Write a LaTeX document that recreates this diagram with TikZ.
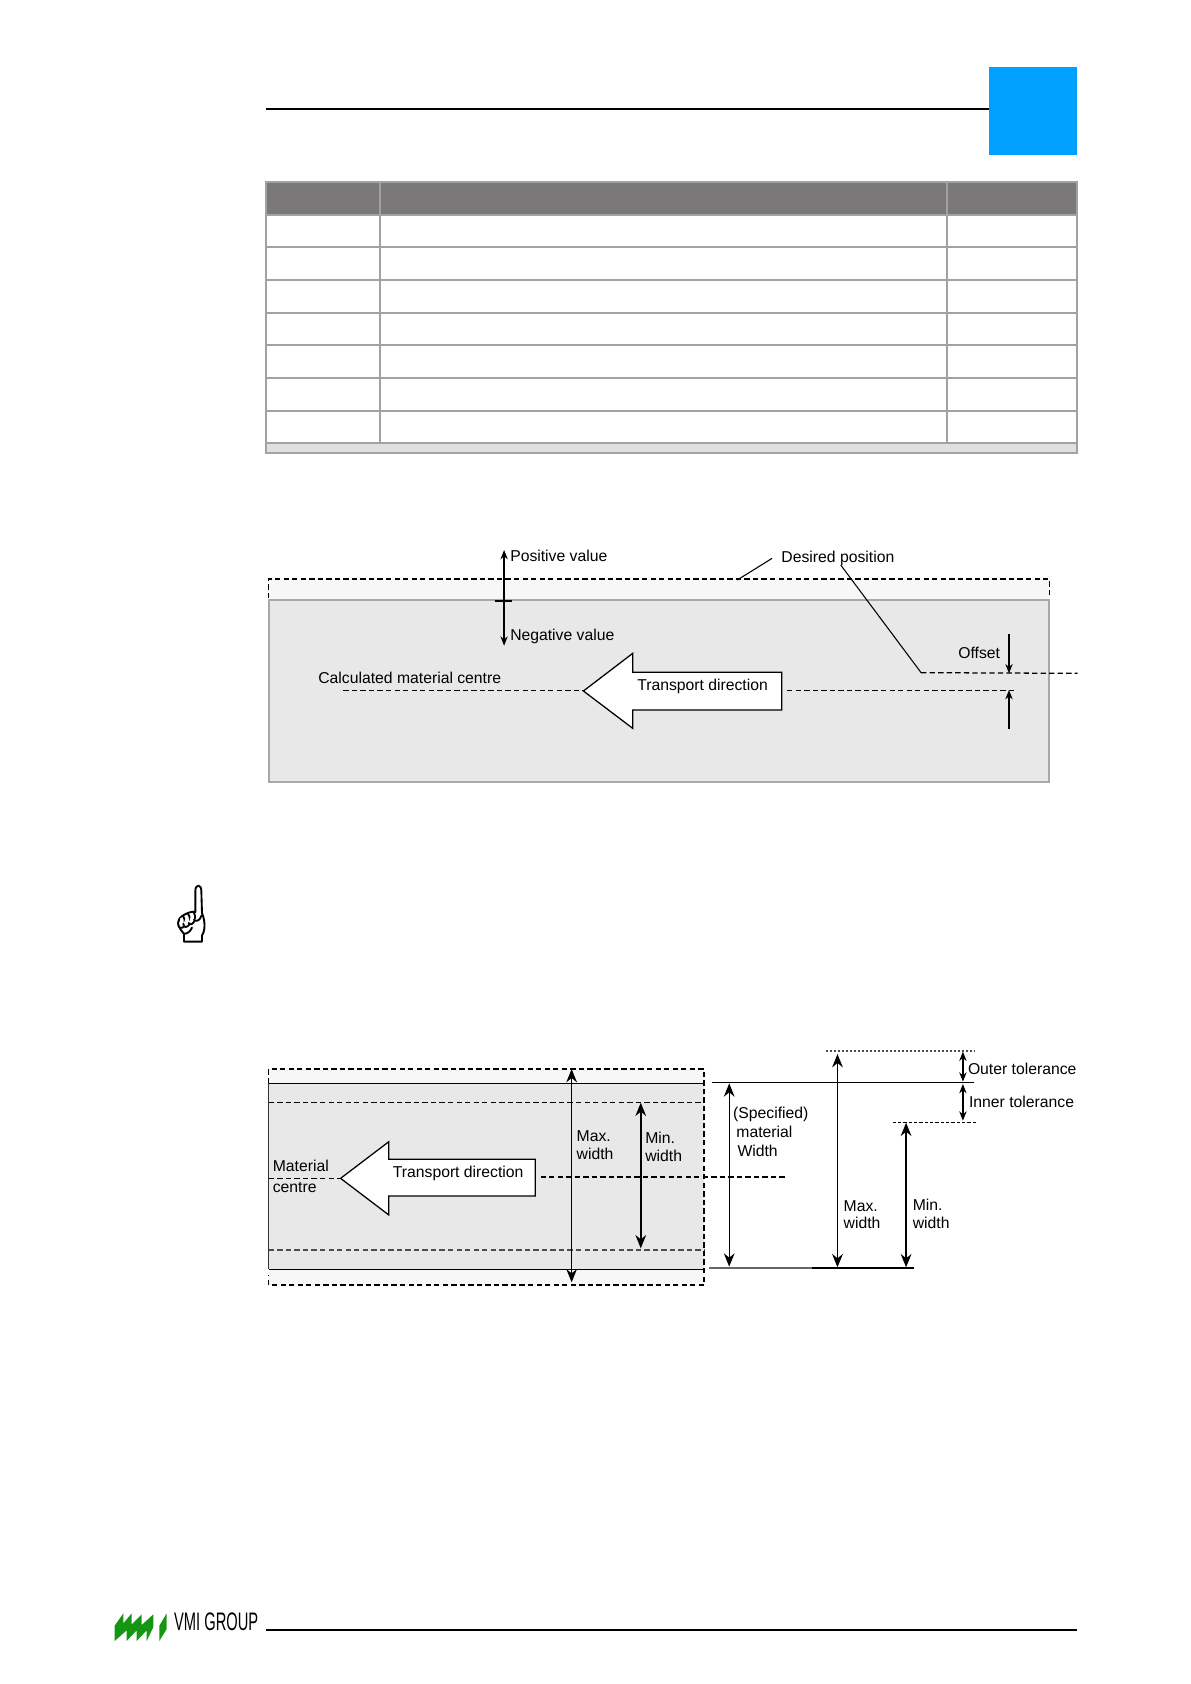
\documentclass[tikz,border=0pt]{standalone}
\usepackage{fontspec}
\setmainfont{Liberation Sans}
\usetikzlibrary{arrows.meta}
\definecolor{tblgrid}{HTML}{A2A2A2}
\definecolor{tblhead}{HTML}{7A7878}
\definecolor{tblfoot}{HTML}{E0E0E0}
\definecolor{bluebox}{HTML}{00A0FF}
\definecolor{matgray}{HTML}{E8E8E8}
\definecolor{matlight}{HTML}{F7F7F7}
\definecolor{matedge}{HTML}{A8A8A8}
\definecolor{vmigreen}{HTML}{149614}
\tikzset{
  lab/.style={anchor=west,inner sep=0pt,font=\fontsize{11.8}{12}\selectfont},
  grid/.style={draw=tblgrid,line width=1.5pt},
  rulebk/.style={draw=black,line width=1.3pt},
  dashln/.style={draw=black,line width=0.95pt,dash pattern=on 4pt off 2.4pt},
  thinln/.style={draw=black,line width=0.8pt},
  dim/.style={draw=black,line width=0.95pt,{Stealth[length=7pt,width=5.5pt]}-{Stealth[length=7pt,width=5.5pt]}},
  dimbig/.style={draw=black,line width=1.3pt,{Stealth[length=10pt,width=8pt]}-{Stealth[length=10pt,width=8pt]}},
  oneway/.style={draw=black,line width=0.95pt,-{Stealth[length=7pt,width=5.5pt]}},
  bigarrow/.style={draw=black,line width=0.95pt,fill=white},
  leaf/.style={fill=vmigreen,draw=none},
  handln/.style={draw=black,line width=1.4pt,line join=round,line cap=round,fill=white}
}
\begin{document}
\begin{tikzpicture}[x=0.75pt,y=-0.75pt]
\useasboundingbox (0,0) rectangle (1191,1684);
% header
\draw[rulebk] (266,109) -- (989,109);
\fill[bluebox] (989,67) rectangle (1077,155);
% table
\fill[tblhead] (266,182) rectangle (1077,214.5);
\fill[tblfoot] (266,443) rectangle (1077,453);
\draw[grid] (266,182) rectangle (1077,453);
\foreach \yy in {214.5,247,280,313,345,378,411,443}{\draw[grid] (266,\yy) -- (1077,\yy);}
\draw[grid] (380,182) -- (380,443);
\draw[grid] (947,182) -- (947,443);
% first figure
\begin{scope}[shift={(249.5,530)},x=0.402pt,y=-0.25pt]
\fill[matlight] (36,147) rectangle (1492,210);
\draw[dashln] (36,205) -- (36,147) -- (1492,147) -- (1492,205);
\draw[draw=matedge,line width=1.2pt,fill=matgray] (36,210) rectangle (1492,756);
\draw[dim] (475,60) -- (475,347);
\draw[thinln] (458,213) -- (490,213);
\draw[thinln] (910,150) -- (975,85);
\draw[thinln] (1103,105) -- (1253,428);
\draw[dashln] (1253,428) -- (1545,430);
\draw[dashln] (175,481) -- (623,481);
\draw[dashln] (1003,481) -- (1430,481);
\draw[oneway] (1417,313) -- (1417,430);
\draw[oneway] (1417,597) -- (1417,480);
\draw[bigarrow] (623,483) -- (715,370) -- (715,427) -- (993,427) -- (993,540) -- (715,540) -- (715,595) -- cycle;
\node[lab] (posv) at (486,78) {Positive value};
\node[lab] (negv) at (486,318) {Negative value};
\node[lab] (desp) at (992,84) {Desired position};
\node[lab] (offs) at (1322,370) {Offset};
\node[lab] (calc) at (128,443) {Calculated material centre};
\node[lab] (tra1) at (723,469) {Transport direction};
\end{scope}
% hand
\begin{scope}[shift={(172,880)},x=0.25pt,y=-0.2925pt]
\draw[handln] (36,158) -- (36,138) .. controls (22,125) and (14,112) .. (22,100) .. controls (28,90) and (60,78) .. (70,82) -- (70,28) .. controls (70,10) and (88,10) .. (88,28) -- (90,85) .. controls (100,105) and (100,130) .. (90,142) -- (90,158) -- cycle;
\draw[handln] (22,100) .. controls (14,112) and (20,128) .. (32,122) .. controls (40,118) and (40,100) .. (34,94);
\draw[handln] (34,112) .. controls (34,124) and (46,122) .. (52,114) .. controls (56,106) and (54,92) .. (48,87);
\draw[handln] (50,110) .. controls (54,118) and (64,112) .. (68,104) .. controls (72,96) and (68,84) .. (62,81);
\draw[handln] (66,102) .. controls (72,108) and (84,104) .. (88,92);
\draw[handln] (36,138) .. controls (48,138) and (56,130) .. (60,122);
\end{scope}
% second figure
\begin{scope}[shift={(249.5,1030)},x=0.402pt,y=-0.25pt]
\fill[matlight] (36,117) rectangle (848,765);
\fill[matgray] (36,160) rectangle (848,718);
\draw[thinln,draw=black!80] (36,160) -- (36,718);
\draw[dashln] (36,160) -- (36,117) -- (848,117) -- (848,765) -- (36,765) -- (36,735);
\draw[draw=black,line width=1.2pt] (36,160) -- (848,160);
\draw[draw=black,line width=1.2pt] (36,718) -- (848,718);
\draw[dashln] (36,218) -- (848,218);
\draw[dashln,draw=black!70] (36,660) -- (848,660);
\draw[dashln,line width=0.7pt] (36,445) -- (170,445);
\draw[dashln] (543,441) -- (1003,441);
\draw[dim,{Stealth[length=10pt,width=8pt]}-{Stealth[length=10pt,width=8pt]}] (601,117) -- (601,757);
\draw[dimbig] (730,218) -- (730,655);
\draw[dim,{Stealth[length=10pt,width=8pt]}-{Stealth[length=10pt,width=8pt]}] (895,160) -- (895,710);
\draw[dimbig] (1097,72) -- (1097,712);
\draw[dimbig] (1225,278) -- (1225,712);
\draw[dim] (1331,65) -- (1331,155);
\draw[dim] (1331,162) -- (1331,272);
\draw[thinln] (862,158) -- (1352,158);
\draw[thinln,draw=black!60] (858,714) -- (1050,714);
\draw[thinln,line width=1.1pt] (1050,714) -- (1240,714);
\draw[thinln,dash pattern=on 2pt off 1pt,draw=black!70] (1075,63) -- (1352,63);
\draw[thinln,dash pattern=on 2.5pt off 1.5pt] (1200,277) -- (1358,277);
\draw[bigarrow] (170,445) -- (260,335) -- (260,388) -- (533,388) -- (533,498) -- (260,498) -- (260,555) -- cycle;
\node[lab] (mat1) at (43,409) {Material};
\node[lab] (mat2) at (43,473) {centre};
\node[lab] (tra2) at (267,431) {Transport direction};
\node[lab] (max1) at (610,318) {Max.};
\node[lab] (max2) at (610,372) {width};
\node[lab] (min1) at (738,322) {Min.};
\node[lab] (min2) at (738,377) {width};
\node[lab] (spc1) at (902,252) {(Specified)};
\node[lab] (spc2) at (908,306) {material};
\node[lab] (spc3) at (910,362) {Width};
\node[lab] (max3) at (1108,529) {Max.};
\node[lab] (max4) at (1108,578) {width};
\node[lab] (min3) at (1237,523) {Min.};
\node[lab] (min4) at (1237,578) {width};
\node[lab] (otol) at (1340,118) {Outer tolerance};
\node[lab] (itol) at (1342,217) {Inner tolerance};
\end{scope}
% footer
\draw[rulebk] (266,1630) -- (1077,1630);
\begin{scope}[shift={(110,1605)},x=0.25pt,y=-0.25pt]
\fill[leaf] (14,108) -- (14,62) -- (40,25) -- (40,55) -- (65,25) -- (65,58) -- (95,28) -- (95,60) -- (130,28) -- (130,66) -- (110,108) -- (110,76) -- (80,108) -- (80,76) -- (50,108) -- (50,76) -- cycle;
\fill[leaf] (148,108) -- (148,62) -- (170,25) -- (170,72) -- cycle;
\end{scope}
\node[anchor=west,inner sep=0pt,font=\fontsize{19}{19}\selectfont,xscale=.58] (vmi) at (174,1622) {VMI GROUP};
\end{tikzpicture}
\end{document}
